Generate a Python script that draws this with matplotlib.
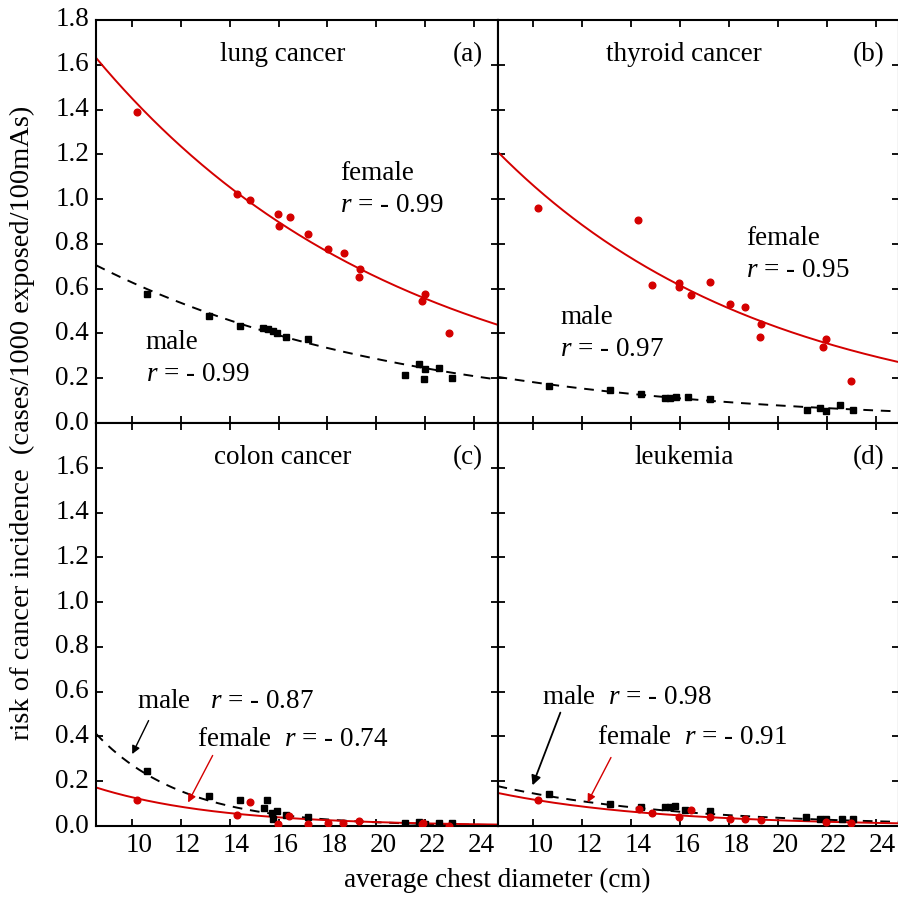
import numpy as np
import matplotlib
matplotlib.use("Agg")
import matplotlib.pyplot as plt
import matplotlib.transforms as mtransforms

plt.rcParams["font.family"] = "Liberation Serif"
plt.rcParams["mathtext.fontset"] = "custom"
plt.rcParams["mathtext.rm"] = "Liberation Serif"
plt.rcParams["mathtext.it"] = "Liberation Serif:italic"

RED = "#d40000"
FS = 19.5

# chest diameter (cm) and risk for each cancer, female / male
lung_f_x = [10.2, 14.29, 14.83, 15.97, 16.0, 16.45, 17.22, 18.03, 18.68, 19.32, 19.28, 21.97, 21.88, 22.98]
lung_f_y = [1.39, 1.024, 0.998, 0.933, 0.882, 0.92, 0.844, 0.775, 0.76, 0.686, 0.65, 0.578, 0.545, 0.404]
lung_m_x = [10.64, 13.16, 14.42, 15.37, 15.58, 15.78, 15.92, 16.3, 17.21, 21.18, 21.74, 21.97, 21.93, 22.54, 23.07]
lung_m_y = [0.575, 0.478, 0.435, 0.425, 0.422, 0.41, 0.402, 0.385, 0.374, 0.213, 0.262, 0.24, 0.195, 0.246, 0.201]

thyroid_f_x = [10.2, 14.3, 14.84, 15.97, 15.97, 16.45, 17.22, 18.03, 18.66, 19.32, 19.27, 21.95, 21.84, 22.97]
thyroid_f_y = [0.961, 0.906, 0.617, 0.624, 0.608, 0.571, 0.629, 0.532, 0.516, 0.444, 0.386, 0.373, 0.34, 0.186]
thyroid_m_x = [10.64, 13.14, 14.41, 15.37, 15.57, 15.84, 16.31, 17.23, 21.18, 21.74, 21.97, 22.55, 23.08]
thyroid_m_y = [0.165, 0.146, 0.13, 0.112, 0.113, 0.116, 0.116, 0.107, 0.06, 0.069, 0.054, 0.079, 0.057]

colon_f_x = [10.2, 14.31, 14.84, 15.96, 16.44, 17.21, 18.01, 18.65, 19.29, 21.9, 21.85, 22.95]
colon_f_y = [0.115, 0.049, 0.109, 0.01, 0.045, 0.01, 0.013, 0.015, 0.022, 0.013, 0.01, 0.0]
colon_m_x = [10.64, 13.16, 14.42, 15.51, 15.4, 15.75, 15.92, 15.78, 16.3, 17.21, 21.18, 21.76, 21.97, 22.54, 23.07]
colon_m_y = [0.246, 0.136, 0.115, 0.115, 0.081, 0.06, 0.066, 0.033, 0.05, 0.04, 0.013, 0.018, 0.01, 0.013, 0.013]

leuk_f_x = [10.2, 14.31, 14.84, 15.95, 16.44, 17.22, 18.03, 18.65, 19.29, 21.95, 22.97]
leuk_f_y = [0.115, 0.076, 0.058, 0.04, 0.073, 0.042, 0.033, 0.03, 0.027, 0.019, 0.015]
leuk_m_x = [10.64, 13.12, 14.39, 15.37, 15.57, 15.78, 16.2, 17.22, 21.15, 21.74, 21.97, 22.6, 23.08]
leuk_m_y = [0.142, 0.097, 0.085, 0.085, 0.085, 0.088, 0.073, 0.067, 0.04, 0.033, 0.031, 0.031, 0.03]

# exponential fits y = a * exp(-b * x)
fit_lung = {"f": (3.23, 0.080), "m": (1.379, 0.0786)}
fit_thyroid = {"f": (2.639, 0.0911), "m": (0.423, 0.0842)}
fit_colon = {"f": (0.95, 0.20), "m": (4.5, 0.28)}
fit_leuk = {"f": (0.546, 0.153), "m": (0.579, 0.138)}

x_ticks = list(range(10, 25, 2))
y_ticks = [0.0, 0.2, 0.4, 0.6, 0.8, 1.0, 1.2, 1.4, 1.6, 1.8]

XMIN, XMAX = 8.54, 24.95

W, H = 898, 897
fig = plt.figure(figsize=(W / 100, H / 100), dpi=100)

def px_axes(left, top, width, height):
    return fig.add_axes([left / W, 1 - (top + height) / H, width / W, height / H])

ax_a = px_axes(96, 20, 401.5, 403)
ax_b = px_axes(497.5, 20, 401.5, 403)
ax_c = px_axes(96, 423, 401.5, 403)
ax_d = px_axes(497.5, 423, 401.5, 403)

panels = [
    (ax_a, lung_f_x, lung_f_y, lung_m_x, lung_m_y, fit_lung, "lung cancer", "(a)"),
    (ax_b, thyroid_f_x, thyroid_f_y, thyroid_m_x, thyroid_m_y, fit_thyroid, "thyroid cancer", "(b)"),
    (ax_c, colon_f_x, colon_f_y, colon_m_x, colon_m_y, fit_colon, "colon cancer", "(c)"),
    (ax_d, leuk_f_x, leuk_f_y, leuk_m_x, leuk_m_y, fit_leuk, "leukemia", "(d)"),
]

xs = np.linspace(XMIN, XMAX, 300)
for ax, fx, fy, mx, my, fit, title, tag in panels:
    a, b = fit["m"]
    ax.plot(xs, a * np.exp(-b * xs), color="black", lw=1.4, dashes=(5, 4), zorder=2)
    a, b = fit["f"]
    ax.plot(xs, a * np.exp(-b * xs), color=RED, lw=1.4, zorder=2)
    ax.plot(mx, my, "s", color="black", ms=5, zorder=3)
    ax.plot(fx, fy, "o", color=RED, ms=4.8, zorder=3)
    ax.set_xlim(XMIN, XMAX)
    ax.set_ylim(0, 1.8)
    ax.set_xticks(x_ticks)
    ax.set_yticks(y_ticks)
    ax.tick_params(direction="in", length=5, width=1.3, top=True, right=True,
                   labelsize=FS, pad=5)
    for s in ax.spines.values():
        s.set_linewidth(1.5)
    ax.text(0.465, 0.915, title, transform=ax.transAxes, ha="center", va="center", fontsize=FS)
    ax.text(0.925, 0.915, tag, transform=ax.transAxes, ha="center", va="center", fontsize=FS)

for ax in (ax_a, ax_b):
    ax.tick_params(labelbottom=False)
for ax in (ax_b, ax_d):
    ax.tick_params(labelleft=False)
ax_a.set_yticklabels([f"{v:.1f}" for v in y_ticks])
ax_c.set_yticks(y_ticks[:-1])
ax_c.set_yticklabels([f"{v:.1f}" for v in y_ticks[:-1]])
for ax in (ax_c, ax_d):
    ax.set_xticklabels([str(v) for v in x_ticks])

# number labels sit a little right of / above their ticks
shift_x = mtransforms.ScaledTranslation(7 / 100, 0, fig.dpi_scale_trans)
shift_y = mtransforms.ScaledTranslation(0, 3 / 100, fig.dpi_scale_trans)
for ax in (ax_c, ax_d):
    for lab in ax.get_xticklabels():
        lab.set_transform(lab.get_transform() + shift_x)
for ax in (ax_a, ax_c):
    for lab in ax.get_yticklabels():
        lab.set_transform(lab.get_transform() + shift_y)

# labels with correlation coefficients
ax_a.text(18.5, 1.116, "female", fontsize=FS, va="center")
ax_a.text(18.5, 0.973, "$r$ = - 0.99", fontsize=FS, va="center")
ax_a.text(10.58, 0.36, "male", fontsize=FS, va="center")
ax_a.text(10.58, 0.215, "$r$ = - 0.99", fontsize=FS, va="center")

ax_b.text(18.7, 0.826, "female", fontsize=FS, va="center")
ax_b.text(18.7, 0.683, "$r$ = - 0.95", fontsize=FS, va="center")
ax_b.text(11.1, 0.47, "male", fontsize=FS, va="center")
ax_b.text(11.1, 0.33, "$r$ = - 0.97", fontsize=FS, va="center")

ax_c.text(10.21, 0.555, "male   $r$ = - 0.87", fontsize=FS, va="center")
ax_c.text(12.66, 0.385, "female  $r$ = - 0.74", fontsize=FS, va="center")
ax_c.annotate("", xy=(9.97, 0.31), xytext=(10.74, 0.482),
              arrowprops=dict(arrowstyle="-|>", color="black", lw=1.0, mutation_scale=12))
ax_c.annotate("", xy=(12.25, 0.094), xytext=(13.36, 0.326),
              arrowprops=dict(arrowstyle="-|>", color=RED, lw=1.0, mutation_scale=12))

ax_d.text(10.34, 0.576, "male  $r$ = - 0.98", fontsize=FS, va="center")
ax_d.text(12.62, 0.395, "female  $r$ = - 0.91", fontsize=FS, va="center")
ax_d.annotate("", xy=(9.93, 0.17), xytext=(11.15, 0.518),
              arrowprops=dict(arrowstyle="-|>", color="black", lw=1.3, mutation_scale=14))
ax_d.annotate("", xy=(12.17, 0.094), xytext=(13.23, 0.317),
              arrowprops=dict(arrowstyle="-|>", color=RED, lw=1.0, mutation_scale=12))

fig.text(22 / W, 1 - 423 / H, "risk of cancer incidence  (cases/1000 exposed/100mAs)",
         rotation=90, ha="center", va="center", fontsize=20.5)
fig.text(497 / W, 1 - 880 / H, "average chest diameter (cm)", ha="center", va="center", fontsize=FS)

fig.savefig("out.png", dpi=100)
